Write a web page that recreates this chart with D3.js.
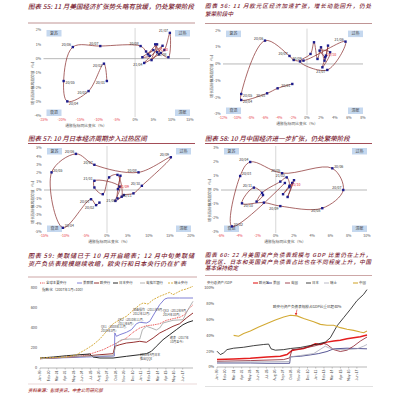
<!DOCTYPE html>
<html><head><meta charset="utf-8">
<script src="https://cdn.jsdelivr.net/npm/d3@7/dist/d3.min.js"></script>
<style>
html,body{margin:0;padding:0;background:#fff;}
svg{display:block;}
text{font-family:"Noto Sans CJK SC","Noto Sans",sans-serif;}
</style></head><body>
<svg id="c" width="401" height="400" viewBox="0 0 401 400"></svg>
<script>
// ---------------- DATA ----------------
const quadNames = ["复苏","过热","衰退","滞胀"];

// Chart 55 – US
const usTitle = ["图表 55: 11 月美国经济扩张势头略有放缓，仍处繁荣阶段"];
const usXTicks = [-25,-20,-15,-10,-5,0,5,10,15];
const usYTicks = [-4,-3,-2,-1,0,1,2];
const usX = [-7.7,-8.5,-12.7,-18.5,-19.5,-17.0,-9.5,1.5,3.0,4.0,2.0,5.0,3.5,6.0,4.5,7.5,2.5,6.5,8.0,9.5,9.1,7.0,5.5,6.0];
const usY = [-1.56,-0.35,-2.26,-2.98,-1.56,0.81,0.88,0.88,0.5,0.2,0.1,0.6,0.3,1.0,-0.1,0.9,-0.3,0.3,0.6,1.8,0.1,0.4,1.0,0.45];
const usLab = ["20/01","20/02","20/03","20/04","20/05","20/06","20/07","20/08","","","","","","","","","21/04","","","21/07","21/08","","","21/10"];

// Chart 56 – Euro area
const euTitle = ["图表 56: 11 月欧元区经济加速扩张，增长动能回升，仍处","繁荣阶段中"];
const euXTicks = [-12,-10,-8,-6,-4,-2,0,2,4,6,8];
const euYTicks = [-3,-2,-1,0,1,2];
const euX = [-2.1,-4.2,-5.7,-9.4,-9.4,-6.0,-2.5,-1.9,-0.5,5.5,2.9,-1.0,0.5,1.0,1.5,2.0,2.5,3.0,2.7,2.2,3.3,1.8,2.6];
const euY = [-1.2,-1.46,-1.76,-2.16,-1.8,1.4,0.48,0.24,0.2,1.34,-0.36,0.15,0.6,1.3,0.3,1.0,0.2,1.1,0.5,-0.2,0.7,0.8,0.4];
const euLab = ["20/01","","20/03","20/04","20/05","20/06","20/07","","20/09","21/06","21/07","","","","","","","","","","","","21/10"];

// Chart 57 – Japan
const jpTitle = ["图表 57: 10 月日本经济周期步入过热区间"];
const jpXTicks = [-15,-10,-5,0,5,10,15,20];
const jpYTicks = [-5,-4,-3,-2,-1,0,1,2,3,4,5];
const jpX = [-1.8,-2.6,-3.8,-10.5,-13.2,-7.4,-3.0,7.5,15.2,8.3,6.3,4.0,2.0,3.0,-3.0,-3.0,-1.0,0.5,2.5,3.5,2.5,3.2,2.6];
const jpY = [-1.5,-1.8,-1.1,-4.5,2.1,4.3,3.0,2.1,3.9,0.5,-0.4,-0.6,-1.3,0.4,1.1,0.3,-0.5,1.5,1.8,-0.8,-1.0,1.7,0.1];
const jpLab = ["","20/02","20/03","20/04","20/05","20/06","20/07","20/08","20/09","20/10","20/11","","","","21/01","","","","","","21/06","","21/09"];

// Chart 58 – China
const cnTitle = ["图表 58: 10 月中国经济进一步扩张，仍处繁荣阶段"];
const cnXTicks = [-6,-4,-2,0,2,4,6,8,10];
const cnYTicks = [-3,-2,-1,0,1,2,3];
const cnX = [1.0,-4.8,-3.9,-2.8,0.7,6.2,7.4,5.1,0.5,-1.3,-3.7,-2.4,-1.4,-2.1,-1.5,0.5,1.2,1.5,0.8,1.8,1.3,2.0,1.5];
const cnY = [0.5,-2.6,1.0,2.0,1.2,1.55,0.0,-1.3,-1.15,-0.9,-0.95,0.17,-0.36,-0.83,-0.2,0.6,0.9,0.3,-0.3,0.5,-0.5,0.7,0.2];
const cnLab = ["","20/02","20/03","20/04","20/05","20/06","20/07","20/08","20/09","","20/10","20/11","","","","","21/02","","","","","","21/10"];

// Chart 59 – central bank balance sheets (index)
const cbTitle = ["图表 59: 美联储已于 10 月开启缩表；12 月中旬美联储","资产负债表规模继续收缩，欧央行和日本央行仍在扩表"];
const cbNames = ["全球主要央行","美联储","欧央行","日本央行","英格兰银行","瑞士央行"];
const cbYTicks = [0,200,400,600,800];
const xTickLabels = ["Jan-99","Feb-00","Mar-01","Apr-02","May-03","Jun-04","Jul-05","Aug-06","Sep-07","Oct-08","Nov-09","Dec-10","Jan-12","Feb-13","Mar-14","Apr-15","May-16","Jun-17"];
const cbAllT = [1999.0,2002.43,2004.58,2005.87,2007.16,2008.02,2008.66,2009.3,2010.16,2011.02,2011.88,2012.74,2013.6,2014.45,2015.31,2016.17,2017.03,2017.67,2018.1,2018.75];
const cbAllV = [93,110,123,150,183,217,240,267,300,357,400,423,430,443,477,493,507,533,583,633];
const cbFedT = [1999.0,2002.0,2005.0,2007.0,2008.6,2008.66,2008.87,2009.3,2010.16,2010.8,2011.45,2011.88,2012.74,2013.17,2013.8,2014.45,2015.1,2015.5,2017.0,2018.75];
const cbFedV = [95,102,110,115,120,350,317,333,357,383,443,457,450,467,550,633,690,700,700,700];
const cbEcbT = [1999.0,2002.43,2004.58,2006.73,2008.44,2008.66,2009.3,2010.16,2011.02,2011.88,2012.74,2013.6,2014.45,2015.31,2016.17,2017.03,2017.89,2018.75];
const cbEcbV = [93,107,117,133,143,217,233,250,257,267,257,300,350,383,417,443,500,550];
const cbBojT = [1999.0,2000.72,2002.43,2004.15,2005.44,2005.87,2006.73,2008.44,2010.16,2011.88,2012.74,2013.38,2014.02,2014.88,2015.74,2016.6,2017.46,2018.1,2018.75];
const cbBojV = [100,110,123,133,140,110,100,100,117,133,143,167,217,283,333,383,433,457,473];
const cbBoeT = [1999.0,2004.58,2008.44,2008.66,2008.87,2009.52,2010.59,2011.88,2012.22,2012.74,2013.38,2014.02,2014.45,2014.88,2016.17,2017.46,2018.1,2018.75];
const cbBoeV = [93,117,123,183,250,283,290,290,383,417,400,380,400,450,477,483,583,667];
const cbSnbT = [1999.0,2002.43,2003.72,2005.01,2005.87,2006.73,2007.59,2008.44,2009.3,2010.16,2011.02,2011.88,2012.31,2012.95,2013.6,2014.45,2015.31,2015.74,2016.17,2016.6,2017.25,2017.89,2018.75];
const cbSnbV = [100,110,133,190,233,290,367,443,483,517,577,633,650,640,683,717,743,757,733,750,777,790,817];
const cbNotes = [
  ["指数化（2007年1月=100）"],
  ["QE1（2008年11月-","2010年3月）"],
  ["QE2（2010年11月-","2011年6月）"],
  ["扭曲操作（2011年9月-","2012年12月）"],
  ["QE3（2012年9月-","2014年10月）"],
  ["缩表（2017年","10月至今）"],
  ["2013年4月日本","推出QQE"]
];

// Chart 60 – balance sheet / GDP
const gdpTitle = ["图表 60: 22 月美国资产负债表规模与 GDP 比重仍在上升，","欧元区、日本和英国资产负债表占比也在不同程度上升，中国","基本保持稳定"];
const gdpNames = ["欧元区","美国","英国","日本","瑞士","中国"];
const gdpYTicks = [0,20,40,60,80,100];
const gdpRedT = [1999.0,2001.19,2003.39,2005.58,2007.34,2008.22,2008.88,2009.53,2010.41,2011.29,2011.95,2012.61,2013.48,2014.36,2015.24,2016.12,2016.99,2017.87,2018.75];
const gdpRedV = [9.4,10.2,11,12.8,13.6,15.7,20.9,22,23.4,26.4,29.4,28.5,31.5,32.8,34,35.7,37,38.3,40.4];
const gdpNavyT = [1999.0,2003.39,2005.58,2008.57,2008.66,2009.97,2011.29,2012.39,2013.48,2014.36,2016.12,2017.43,2018.75];
const gdpNavyV = [5.1,5.1,4.7,4.7,12.8,13.6,15.3,17,19.6,23,23.8,23.4,23];
const gdpDredT = [1999.0,2003.39,2007.78,2008.57,2008.88,2009.97,2011.73,2013.04,2013.48,2014.36,2015.24,2016.12,2016.99,2017.87,2018.75];
const gdpDredV = [7.2,8.1,9.4,11.5,22,23,26.4,29.8,28.5,22,19.6,21.3,26.4,32.8,37.9];
const gdpBlackT = [1999.0,1999.44,1999.88,2000.32,2001.19,2002.51,2003.83,2005.14,2005.8,2006.11,2006.68,2007.78,2008.66,2009.97,2011.29,2012.39,2013.26,2013.92,2014.8,2015.68,2016.56,2017.43,2018.31,2018.75];
const gdpBlackV = [20,15.7,17.9,22,23.8,25,27,28.5,29,23,21.3,22,23.4,24.7,27.2,29.4,31.5,37,52,62.5,73,84,92,98];
const gdpGrayT = [1999.0,2004.0,2008.57,2008.66,2009.97,2011.73,2013.26,2013.7,2014.8,2016.12,2017.43,2018.31,2018.75];
const gdpGrayV = [6,6.5,7,12.8,14.5,17,26.4,24.3,22,22,23,26.4,28.5];
const gdpGoldT = [2001.19,2001.85,2002.51,2003.39,2004.49,2005.58,2006.68,2007.78,2008.66,2009.53,2010.41,2011.73,2012.61,2013.48,2014.36,2015.24,2016.12,2016.99,2017.87,2018.31,2018.75];
const gdpGoldV = [40,39,42.5,45.5,50.6,55,59.6,63.4,65.5,64.7,61.3,57.4,54,52.8,52.8,49.8,47.7,46.4,44.3,43.4,45.5];
const gdpNote = "欧央行资产负债表规模占GDP比重已超40%";
const sourceText = "资料来源：彭博资讯，中金公司研究部";

// ---------------- DRAW ----------------
const svg = d3.select("#c");
const TITLE_C = "#7a2232";

function titleBlock(lines, x, y0, lh, fs, widths){
  lines.forEach((t,i)=>{
    const el = svg.append("text").attr("x",x).attr("y",y0+i*lh)
      .attr("font-size",fs).attr("font-style","italic").attr("font-weight","500")
      .attr("fill",TITLE_C).text(t);
    if(widths && widths[i]) el.attr("textLength",widths[i]).attr("lengthAdjust","spacing");
  });
}
function rule(x1,x2,y,color,w){
  svg.append("line").attr("x1",x1).attr("x2",x2).attr("y1",y).attr("y2",y)
    .attr("stroke",color).attr("stroke-width",w||0.8);
}

function clock(c){
  const x = d3.scaleLinear().domain(c.xd).range([c.l,c.r]);
  const y = d3.scaleLinear().domain(c.yd).range([c.b,c.t]);
  const g = svg.append("g");
  g.append("line").attr("x1",x(0)).attr("x2",x(0)).attr("y1",c.t-2).attr("y2",c.b+1)
    .attr("stroke","#bcbcbc").attr("stroke-width",0.6);
  g.append("line").attr("x1",c.l).attr("x2",c.r).attr("y1",y(0)).attr("y2",y(0))
    .attr("stroke","#a6a6a6").attr("stroke-width",0.8);
  g.selectAll(null).data(c.xt).join("text")
    .attr("x",d=>x(d)).attr("y",c.b+5).attr("text-anchor","middle")
    .attr("font-size",3.6).attr("fill",d=>d<0?"#e8424c":"#555").text(d=>d+"%");
  g.selectAll(null).data(c.yt).join("text")
    .attr("x",c.l-2.5).attr("y",d=>y(d)+1.2).attr("text-anchor","end")
    .attr("font-size",3.6).attr("fill","#555").text(d=>d+"%");
  const bw=15, bh=6.5;
  const qpos = [[c.l+3,c.t],[c.r-bw,c.t],[c.l+3,c.b-bh],[c.r-bw,c.b-bh]];
  qpos.forEach((p,i)=>{
    g.append("rect").attr("x",p[0]).attr("y",p[1]).attr("width",bw).attr("height",bh)
      .attr("fill","#c5d8ef");
    g.append("text").attr("x",p[0]+bw/2).attr("y",p[1]+bh/2+1.4).attr("text-anchor","middle")
      .attr("font-size",4).attr("fill","#444").text(quadNames[i]);
  });
  g.append("text").attr("x",c.xtx).attr("y",c.b+11).attr("text-anchor","middle")
    .attr("font-size",3.8).attr("fill","#555").text(c.xtitle);
  g.append("text").attr("transform",`translate(${c.l-10},${c.yty}) rotate(-90)`)
    .attr("text-anchor","middle").attr("font-size",3.8).attr("fill","#555").text(c.ytitle);
  const pts = c.xs.map((v,i)=>({x:v,y:c.ys[i],lab:c.lab[i],last:i===c.xs.length-1}));
  g.append("path").datum(pts)
    .attr("d",d3.line().x(d=>x(d.x)).y(d=>y(d.y)).curve(d3.curveCatmullRom.alpha(0.5)))
    .attr("fill","none").attr("stroke","#8e3535").attr("stroke-width",0.75);
  g.selectAll(null).data(pts).join("rect")
    .attr("x",d=>x(d.x)-1.2).attr("y",d=>y(d.y)-1.2).attr("width",2.4).attr("height",2.4)
    .attr("fill","#1c1c8c");
  // label placement: avoid the quadrant boxes at the corners
  const nearL = d => x(d.x)-c.l < 26, nearR = d => c.r-x(d.x) < 26;
  const right = d => nearL(d) || (!nearR(d) && (d.last || d.x > c.xd[1]*0.55));
  const below = d => d.y<0 && (c.b-y(d.y) > 12);
  g.selectAll(null).data(pts.filter(d=>d.lab)).join("text")
    .attr("x",d=>right(d)?x(d.x)+1.8:x(d.x)-1.8)
    .attr("y",d=>y(d.y)+(below(d)?3.4:-0.8))
    .attr("text-anchor",d=>right(d)?"start":"end")
    .attr("font-size",3.5).attr("fill",d=>d.last?"#e02020":"#333").text(d=>d.lab);
}

clock({xd:[-25,15],yd:[-4,2],l:43.5,r:190,t:30,b:116,xt:usXTicks,yt:usYTicks,
  xs:usX,ys:usY,lab:usLab,xtx:86,yty:82,xtitle:"通胀指标同比变化（%）",ytitle:"增长指标偏离趋势值（%）"});
clock({xd:[-12,8],yd:[-3,2],l:223,r:363,t:30.6,b:114,xt:euXTicks,yt:euYTicks,
  xs:euX,ys:euY,lab:euLab,xtx:297,yty:75,xtitle:"通胀指标同比变化（%）",ytitle:"增长指标偏离趋势值（%）"});
clock({xd:[-15,20],yd:[-5,5],l:44,r:191,t:148,b:232,xt:jpXTicks,yt:jpYTicks,
  xs:jpX,ys:jpY,lab:jpLab,xtx:109,yty:201,xtitle:"通胀指标同比变化（%）",ytitle:"增长指标偏离趋势值（%）"});
clock({xd:[-6,10],yd:[-3,3],l:221,r:367,t:148,b:232,xt:cnXTicks,yt:cnYTicks,
  xs:cnX,ys:cnY,lab:cnLab,xtx:285,yty:199,xtitle:"通胀指标同比变化（%）",ytitle:"增长指标偏离趋势值（%）"});

titleBlock(usTitle,28,8.5,7,6.5,[166]);
rule(28,195,23,"#b07a7a");
titleBlock(euTitle,205,8.0,7.6,5.6,[166,null]);
rule(205,372,23.5,"#b07a7a");
titleBlock(jpTitle,28,140.5,7,6.5);
rule(28,195,143.5,"#8c1f2c");
titleBlock(cnTitle,205,140.5,7,6.5);
rule(205,372,143.5,"#8c1f2c");

// ---- line charts ----
const MON = ["Jan","Feb","Mar","Apr","May","Jun","Jul","Aug","Sep","Oct","Nov","Dec"];
function tickPos(s){const p=s.split("-");const yy=+p[1];return 2000+(yy>50?yy-100:yy)+MON.indexOf(p[0])/12;}

function lineChart(c){
  const x = d3.scaleLinear().domain([1999,2018.75]).range([c.l,c.r]);
  const y = d3.scaleLinear().domain(c.yd).range([c.b,c.t]);
  const g = svg.append("g");
  g.append("line").attr("x1",c.l).attr("x2",c.r).attr("y1",c.b).attr("y2",c.b)
    .attr("stroke","#888").attr("stroke-width",0.6);
  xTickLabels.forEach(s=>{
    const px = x(tickPos(s));
    g.append("line").attr("x1",px).attr("x2",px).attr("y1",c.b).attr("y2",c.b+1.5)
      .attr("stroke","#888").attr("stroke-width",0.5);
    g.append("text").attr("transform",`translate(${px+1.2},${c.b+2.5}) rotate(-90)`)
      .attr("text-anchor","end").attr("font-size",3.4).attr("fill","#444").text(s);
  });
  g.selectAll(null).data(c.yt).join("text")
    .attr("x",c.l-3).attr("y",d=>y(d)+1.3).attr("text-anchor","end")
    .attr("font-size",3.8).attr("fill","#444").text(c.yfmt);
  c.series.forEach(s=>{
    const pts = s.t.map((t,i)=>[t,s.v[i]]);
    g.append("path").datum(pts).attr("d",d3.line().x(d=>x(d[0])).y(d=>y(d[1])))
      .attr("fill","none").attr("stroke",s.color).attr("stroke-width",s.w)
      .attr("stroke-dasharray",s.dash||null);
  });
  c.series.forEach((s,i)=>{
    const lx = c.leg[i];
    g.append("line").attr("x1",lx).attr("x2",lx+5).attr("y1",c.legY).attr("y2",c.legY)
      .attr("stroke",s.color).attr("stroke-width",Math.min(s.w,1.1)).attr("stroke-dasharray",s.dash||null);
    g.append("text").attr("x",lx+6).attr("y",c.legY+1.2).attr("font-size",3.4)
      .attr("fill","#333").text(s.name);
  });
  return {x,y,g};
}

const c5 = lineChart({l:40,r:193,t:288,b:368,yd:[0,800],yt:cbYTicks,yfmt:d=>d,
  legY:283,leg:[40,77,94,113,140,168],
  series:[
    {name:cbNames[0],t:cbAllT,v:cbAllV,color:"#e53535",w:0.9,dash:"1,0.8"},
    {name:cbNames[1],t:cbFedT,v:cbFedV,color:"#7272d0",w:0.9},
    {name:cbNames[2],t:cbEcbT,v:cbEcbV,color:"#8b1c1c",w:0.9},
    {name:cbNames[3],t:cbBojT,v:cbBojV,color:"#111",w:0.9},
    {name:cbNames[4],t:cbBoeT,v:cbBoeV,color:"#aaaaaa",w:0.9},
    {name:cbNames[5],t:cbSnbT,v:cbSnbV,color:"#d3a52c",w:0.9,dash:"2,1"}
  ]});
const notePos = [[42,291],[101,328],[118,321],[133,311],[163,312],[170,339],[140,356]];
cbNotes.forEach((lines,i)=>{
  lines.forEach((t,j)=>c5.g.append("text").attr("x",notePos[i][0]).attr("y",notePos[i][1]+j*3.6)
    .attr("font-size",i===0?3.6:3).attr("fill","#444").text(t));
});

const c6 = lineChart({l:217,r:367,t:288,b:367,yd:[0,100],yt:gdpYTicks,yfmt:d=>d+"%",
  legY:283,leg:[253,267,285,306,324,353],
  series:[
    {name:gdpNames[0],t:gdpRedT,v:gdpRedV,color:"#e41e1e",w:1.5},
    {name:gdpNames[1],t:gdpNavyT,v:gdpNavyV,color:"#2c2c7a",w:0.8},
    {name:gdpNames[2],t:gdpDredT,v:gdpDredV,color:"#8b1c2a",w:0.8},
    {name:gdpNames[3],t:gdpBlackT,v:gdpBlackV,color:"#111",w:0.8},
    {name:gdpNames[4],t:gdpGrayT,v:gdpGrayV,color:"#a8a8b8",w:0.8},
    {name:gdpNames[5],t:gdpGoldT,v:gdpGoldV,color:"#d3aa35",w:1.1}
  ]});
c6.g.append("text").attr("x",207).attr("y",284.2).attr("font-size",3.4).attr("fill","#333").text("央行总资产/GDP");
c6.g.append("text").attr("x",273).attr("y",308).attr("font-size",3.6).attr("fill","#333").text(gdpNote);
c6.g.append("line").attr("x1",297).attr("x2",296).attr("y1",309.5).attr("y2",314)
  .attr("stroke","#e02020").attr("stroke-width",0.6);
c6.g.append("path").attr("d","M294.8,313 L296,315.5 L297.4,313.3 Z").attr("fill","#e02020");

titleBlock(cbTitle,28,258,7.6,6.1,[166,158]);
rule(28,197,277,"#c09090");
titleBlock(gdpTitle,205,256.8,6.7,5.5,[166,166,null]);
rule(205,372,275.5,"#c09090");

rule(28,197,384,"#dcc0c0",0.6);
rule(205,373,386.5,"#cccccc",0.6);
svg.append("text").attr("x",28).attr("y",391.5).attr("font-size",4.4)
  .attr("font-style","italic").attr("font-weight","500").attr("fill","#a33030").text(sourceText);
</script>
</body></html>
